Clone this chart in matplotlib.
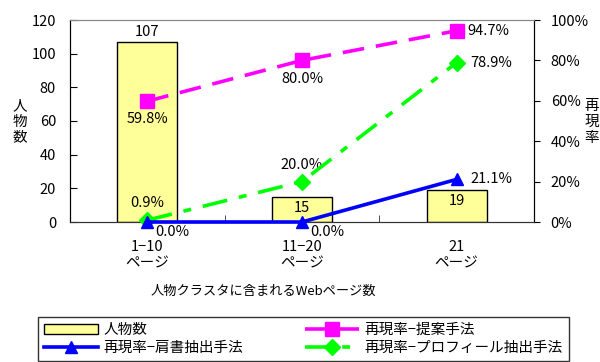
import matplotlib
matplotlib.use("Agg")
import matplotlib.pyplot as plt
from matplotlib.ticker import FixedLocator

plt.rcParams['font.family'] = ['Noto Sans CJK JP', 'DejaVu Sans']

categories = ["1\u221210\nページ", "11\u221220\nページ", "21\nページ"]
persons = [107, 15, 19]
recall_proposed = [59.8, 80.0, 94.7]
recall_title = [0.0, 0.0, 21.1]
recall_profile = [0.9, 20.0, 78.9]

fig = plt.figure(figsize=(6.0, 3.62), dpi=100)
ax = fig.add_axes([70/600, 1-222/362, 464/600, 202/362])
ax2 = ax.twinx()

x = list(range(len(categories)))
fs = 10.5

bars = ax.bar(x, persons, width=0.39, color="#FFFF99", edgecolor="black", linewidth=1.0,
              label="人物数", zorder=2)
ax.set_xlim(-0.5, 2.5)
ax.set_ylim(0, 120)
ax.set_yticks(range(0, 121, 20))
ax.tick_params(axis='y', labelsize=fs, direction='in', length=5, pad=10)
ax.set_xticks(x)
ax.set_xticklabels(categories, fontsize=fs, linespacing=1.2)
ax.tick_params(axis='x', length=0, pad=13)
ax.xaxis.set_minor_locator(FixedLocator([0.5, 1.5]))
ax.tick_params(axis='x', which='minor', direction='in', length=5, color="#333333")

for i, v in enumerate(persons):
    if v > 50:
        ax.annotate(str(v), (i, v), xytext=(0, 2), textcoords='offset points',
                    ha='center', va='bottom', fontsize=fs)
    else:
        ax.annotate(str(v), (i, v), xytext=(0, -3), textcoords='offset points',
                    ha='center', va='top', fontsize=fs)

ax2.set_ylim(0, 100)
ax2.set_yticks(range(0, 101, 20))
ax2.set_yticklabels([f"{t}%" for t in range(0, 101, 20)])
ax2.tick_params(axis='y', labelsize=fs, direction='out', length=4, pad=8)

l_title, = ax2.plot(x, recall_title, color="#0000FF", lw=2.6, marker='^', ms=9,
                    label="再現率\u2212肩書抽出手法", clip_on=False, zorder=5)
l_prop, = ax2.plot(x, recall_proposed, color="#FF00FF", lw=2.6, ls=(0, (6, 3.3)), marker='s', ms=10.5,
                   label="再現率\u2212提案手法", clip_on=False, zorder=4)
l_prof, = ax2.plot(x, recall_profile, color="#00FF00", lw=2.6, ls=(0, (7, 3.3, 2.2, 3.3)), marker='D', ms=8.5,
                   label="再現率\u2212プロフィール抽出手法", clip_on=False, zorder=4)

# labels
for i, v in enumerate(recall_proposed):
    if i < 2:
        ax2.annotate(f"{v:.1f}%", (i, v), xytext=(0, -8), textcoords='offset points',
                     ha='center', va='top', fontsize=fs)
    else:
        ax2.annotate(f"{v:.1f}%", (i, v), xytext=(8, 0), textcoords='offset points',
                     ha='left', va='center', fontsize=fs)
for i, v in enumerate(recall_profile):
    if i < 2:
        ax2.annotate(f"{v:.1f}%", (i, v), xytext=(0, 7), textcoords='offset points',
                     ha='center', va='bottom', fontsize=fs)
    else:
        ax2.annotate(f"{v:.1f}%", (i, v), xytext=(10, 0), textcoords='offset points',
                     ha='left', va='center', fontsize=fs)
for i, v in enumerate(recall_title):
    if i < 2:
        ax2.annotate(f"{v:.1f}%", (i, v), xytext=(6, -2), textcoords='offset points',
                     ha='left', va='top', fontsize=fs)
    else:
        ax2.annotate(f"{v:.1f}%", (i, v), xytext=(10, 0), textcoords='offset points',
                     ha='left', va='center', fontsize=fs)

for a in (ax, ax2):
    a.spines['top'].set_color("#888888")
    a.spines['left'].set_color("black")
    a.spines['right'].set_color("black")
    a.spines['bottom'].set_color("#333333")

fig.text(20/600, 1-122/362, "人\n物\n数", ha='center', va='center', fontsize=fs, linespacing=1.15)
fig.text(592/600, 1-122/362, "再\n現\n率", ha='center', va='center', fontsize=fs, linespacing=1.15)
fig.text(263/600, 1-291/362, "人物クラスタに含まれるWebページ数", ha='center', va='center', fontsize=9.5)

handles = [bars, l_title, l_prop, l_prof]
leg = fig.legend(handles, [h.get_label() for h in handles], ncol=2, loc='upper left',
                 bbox_to_anchor=(38/600, 1-317/362, 531/600, 0), mode='expand',
                 fontsize=10.5, frameon=True, fancybox=False, edgecolor='black',
                 borderpad=0.4, labelspacing=0.3, handlelength=3.7, handletextpad=0.4,
                 columnspacing=1.0, borderaxespad=0)
leg.get_frame().set_linewidth(1.0)

fig.savefig("out.png", dpi=100)
